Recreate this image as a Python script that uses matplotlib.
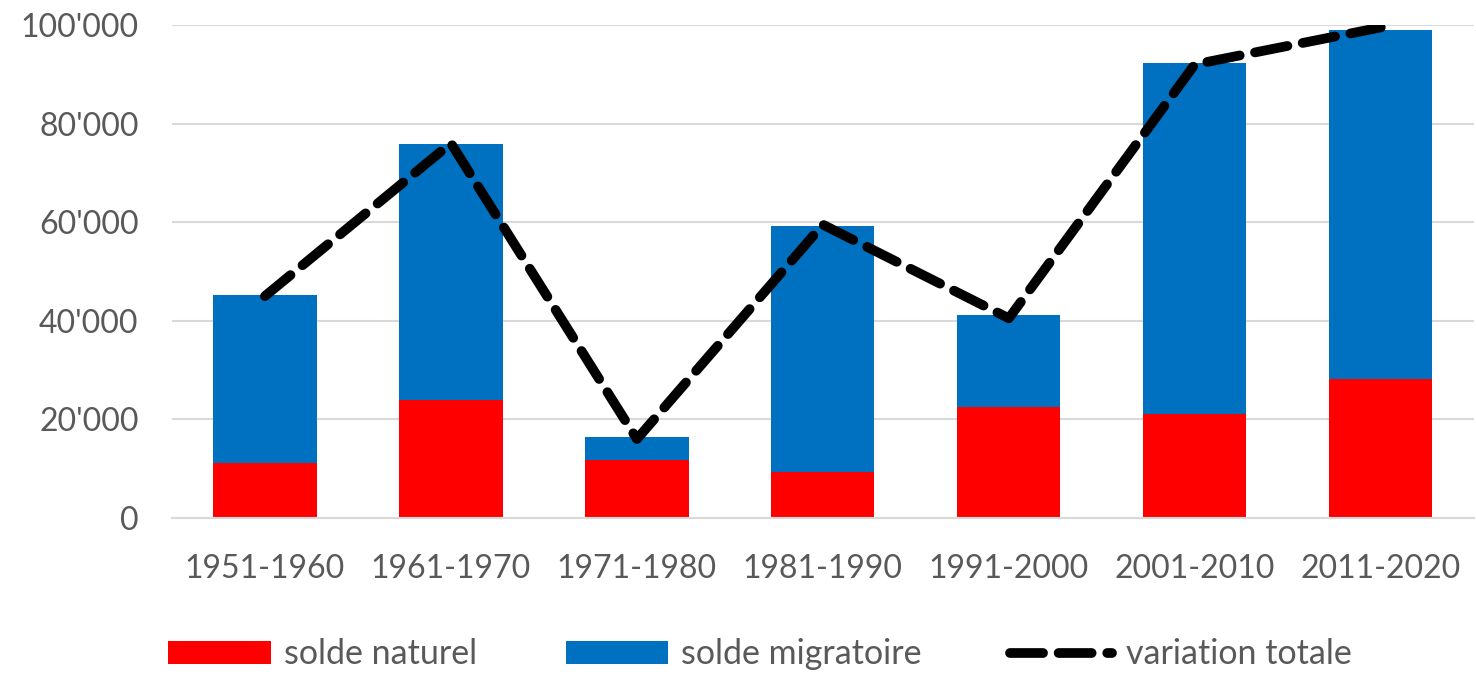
import matplotlib.pyplot as plt
from matplotlib.ticker import FuncFormatter

periodes = ['1951-1960', '1961-1970', '1971-1980', '1981-1990',
            '1991-2000', '2001-2010', '2011-2020']
solde_naturel = [11100, 24000, 11800, 9400, 22500, 21000, 28200]
solde_migratoire = [34200, 51800, 4700, 49800, 18600, 71300, 70800]
variation_totale = [45000, 76000, 16000, 59500, 40500, 92000, 99500]

plt.rcParams['font.family'] = ['Lato', 'DejaVu Sans']
gris = '#595959'

fig = plt.figure(figsize=(14.76, 6.74), dpi=100)
ax = fig.add_axes([0.1165, 0.2315, 0.882, 0.7315])

x = range(len(periodes))
b1 = ax.bar(x, solde_naturel, width=0.555, color='#ff0000', label='solde naturel', zorder=2)
b2 = ax.bar(x, solde_migratoire, width=0.555, bottom=solde_naturel, color='#0070c0',
            label='solde migratoire', zorder=2)
ligne, = ax.plot(x, variation_totale, color='black', lw=7, ls=(0, (3.4, 1.6)),
                 dash_capstyle='round', solid_capstyle='round', label='variation totale', zorder=3)

ax.set_xlim(-0.5, len(periodes) - 0.5)
ax.set_ylim(0, 100000)
ax.set_yticks(range(0, 100001, 20000))
ax.yaxis.set_major_formatter(FuncFormatter(lambda v, p: f"{int(v):,}".replace(',', "'")))
ax.set_xticks(list(x))
ax.set_xticklabels(periodes)
ax.tick_params(axis='both', length=0, labelsize=23, colors=gris)
ax.tick_params(axis='x', pad=26)
ax.tick_params(axis='y', pad=24)
ax.grid(axis='y', color='#d9d9d9', lw=1.5, zorder=0)
for s in ['top', 'right', 'left']:
    ax.spines[s].set_visible(False)
ax.spines['bottom'].set_color('#d9d9d9')
ax.spines['bottom'].set_linewidth(1.5)

leg = fig.legend(handles=[b1, b2, ligne], loc='lower center', bbox_to_anchor=(0.515, -0.04),
                 ncol=3, frameon=False, fontsize=24.5, handlelength=3.0, handleheight=0.65,
                 columnspacing=2.6, handletextpad=0.4, labelcolor=gris)

fig.savefig('out.png', dpi=100)
